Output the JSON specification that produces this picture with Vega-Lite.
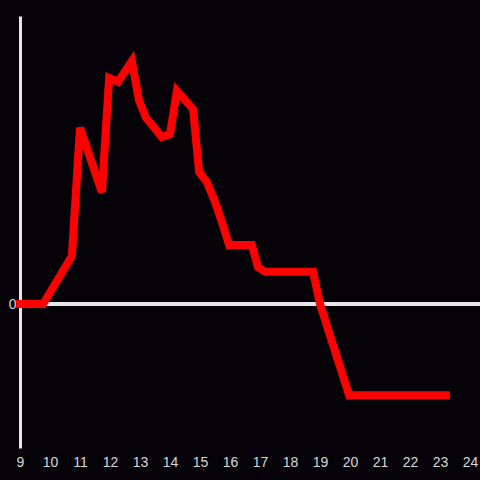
{
  "$schema": "https://vega.github.io/schema/vega-lite/v6.json",
  "autosize": "none",
  "width": 460,
  "height": 432,
  "padding": {"left": 20, "top": 16, "right": 0, "bottom": 32},
  "background": "#050308",
  "config": {
    "view": {"stroke": null},
    "axis": {"labelFont": "Liberation Sans", "labelFontSize": 14, "labelColor": "#d8d8d8", "grid": false, "ticks": false}
  },
  "data": {
    "values": [
      {"x": 8.87, "y": 0},
      {"x": 9.77, "y": 0},
      {"x": 10.73, "y": 1.0},
      {"x": 11.0, "y": 3.67},
      {"x": 11.73, "y": 2.33},
      {"x": 11.97, "y": 4.71},
      {"x": 12.27, "y": 4.63},
      {"x": 12.73, "y": 5.06},
      {"x": 12.97, "y": 4.23},
      {"x": 13.2, "y": 3.88},
      {"x": 13.73, "y": 3.48},
      {"x": 14.0, "y": 3.54},
      {"x": 14.23, "y": 4.44},
      {"x": 14.77, "y": 4.06},
      {"x": 14.97, "y": 2.75},
      {"x": 15.23, "y": 2.54},
      {"x": 15.5, "y": 2.13},
      {"x": 15.73, "y": 1.71},
      {"x": 15.97, "y": 1.23},
      {"x": 16.73, "y": 1.23},
      {"x": 16.93, "y": 0.77},
      {"x": 17.17, "y": 0.67},
      {"x": 18.77, "y": 0.67},
      {"x": 19.0, "y": 0.0},
      {"x": 19.97, "y": -1.9},
      {"x": 23.33, "y": -1.9}
    ]
  },
  "layer": [
    {
      "mark": {"type": "rule", "color": "#e6e6e6", "strokeWidth": 3},
      "encoding": {"y": {"datum": 0, "type": "quantitative"}}
    },
    {
      "mark": {"type": "line", "color": "#ff0000", "strokeWidth": 8, "strokeJoin": "miter", "clip": false},
      "encoding": {
        "x": {
          "field": "x", "type": "quantitative",
          "scale": {"domain": [9, 24.3333], "nice": false, "zero": false},
          "axis": {"title": null, "domain": false, "values": [9,10,11,12,13,14,15,16,17,18,19,20,21,22,23,24], "labelPadding": 7, "labelFlush": false}
        },
        "y": {
          "field": "y", "type": "quantitative",
          "scale": {"domain": [-3, 6], "nice": false, "zero": false},
          "axis": {"title": null, "domain": true, "domainColor": "#e6e6e6", "domainWidth": 3, "values": [0], "labelPadding": 4}
        }
      }
    }
  ]
}
